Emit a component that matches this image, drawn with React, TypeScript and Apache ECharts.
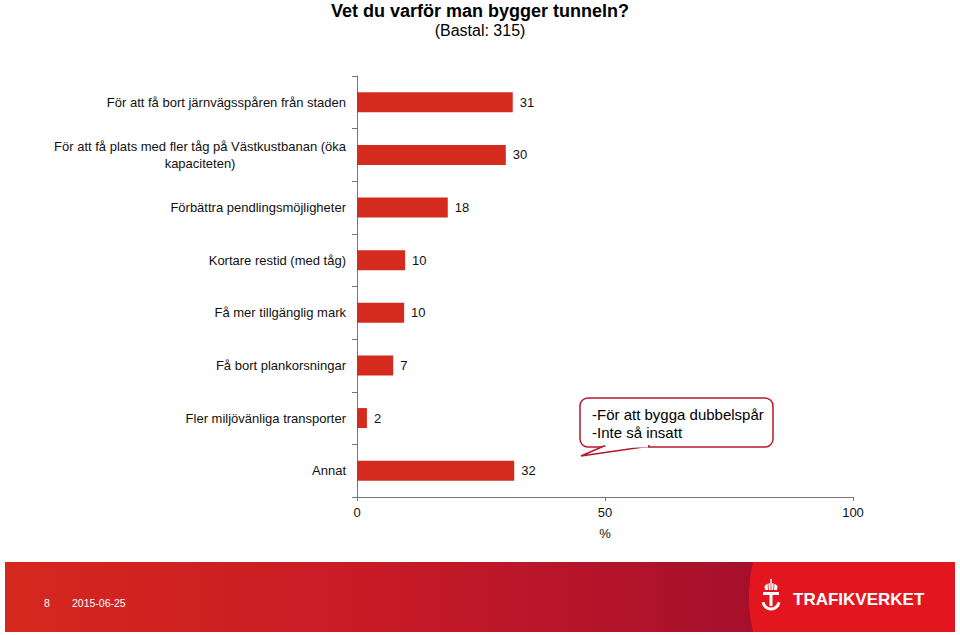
import React, { useEffect, useRef } from "react";
import * as echarts from "echarts";

const FONT = "'Liberation Sans', Arial, Helvetica, sans-serif";

const categories: string[] = [
  "För att få bort järnvägsspåren från staden",
  "För att få plats med fler tåg på Västkustbanan (öka\nkapaciteten)",
  "Förbättra pendlingsmöjligheter",
  "Kortare restid (med tåg)",
  "Få mer tillgänglig mark",
  "Få bort plankorsningar",
  "Fler miljövänliga transporter",
  "Annat",
];
const values: number[] = [31.4, 30.0, 18.3, 9.7, 9.5, 7.3, 2.0, 31.7];
const xTicks: number[] = [0, 50, 100];
const titleText = "Vet du varför man bygger tunneln?";
const subtitleText = "(Bastal: 315)";
const calloutLines: string[] = ["-För att bygga dubbelspår", "-Inte så insatt"];
const footerPage = "8";
const footerDate = "2015-06-25";
const logoText = "TRAFIKVERKET";

export default function App() {
  const ref = useRef<HTMLDivElement>(null);
  useEffect(() => {
    if (!ref.current) return;
    const chart = echarts.init(ref.current, undefined, { renderer: "svg" });
    const W = { fill: "#fff" };
    const option: any = {
      animation: false,
      backgroundColor: "#ffffff",
      textStyle: { fontFamily: FONT },
      grid: { left: 357, right: 107, top: 76, bottom: 138, containLabel: false },
      xAxis: {
        type: "value",
        min: xTicks[0],
        max: xTicks[xTicks.length - 1],
        interval: xTicks[1] - xTicks[0],
        splitLine: { show: false },
        axisLine: { show: true, lineStyle: { color: "#777", width: 1 } },
        axisTick: { show: true, length: 4, lineStyle: { color: "#777" } },
        axisLabel: { color: "#111", fontSize: 13, margin: 9, fontFamily: FONT },
        name: "%",
        nameLocation: "middle",
        nameGap: 30,
        nameTextStyle: { color: "#111", fontSize: 13, fontFamily: FONT },
      },
      yAxis: {
        type: "category",
        inverse: true,
        data: categories,
        axisLine: { show: true, lineStyle: { color: "#777", width: 1 } },
        axisTick: { show: true, length: 5, alignWithLabel: false, lineStyle: { color: "#777" } },
        axisLabel: {
          color: "#111",
          fontSize: 13,
          margin: 11,
          fontFamily: FONT,
          lineHeight: 17,
          formatter: (v: string) =>
            v.indexOf("\n") >= 0
              ? v
                  .split("\n")
                  .map((l) => "{c|" + l + "}")
                  .join("\n")
              : v,
          rich: {
            c: { align: "center", fontSize: 13, color: "#111", lineHeight: 17, fontFamily: FONT },
          },
        },
      },
      series: [
        {
          type: "bar",
          data: values,
          barWidth: 20,
          itemStyle: { color: "#d52b1e" },
          label: {
            show: true,
            position: "right",
            distance: 7,
            color: "#111",
            fontSize: 13,
            fontFamily: FONT,
            formatter: (p: any) => String(Math.round(p.value)),
          },
        },
      ],
      graphic: [
        {
          type: "text",
          x: 480,
          y: 11,
          style: {
            text: titleText,
            fill: "#000",
            font: "bold 18px " + FONT,
            textAlign: "center",
            textVerticalAlign: "middle",
          },
        },
        {
          type: "text",
          x: 480,
          y: 30,
          style: {
            text: subtitleText,
            fill: "#000",
            font: "16px " + FONT,
            textAlign: "center",
            textVerticalAlign: "middle",
          },
        },
        // callout
        {
          type: "rect",
          shape: { x: 580, y: 398, width: 193, height: 49, r: 8 },
          style: { fill: "#fff", stroke: "#b5182c", lineWidth: 1.5 },
          z: 10,
        },
        {
          type: "polygon",
          shape: { points: [[604, 446], [581, 456], [650, 446]] },
          style: { fill: "#fff", stroke: "#b5182c", lineWidth: 1.5 },
          z: 11,
        },
        {
          type: "line",
          shape: { x1: 605.5, y1: 446.2, x2: 648, y2: 446.2 },
          style: { stroke: "#fff", lineWidth: 2.5 },
          z: 12,
        },
        {
          type: "text",
          x: 592,
          y: 405,
          z: 13,
          style: {
            text: calloutLines.join("\n"),
            fill: "#000",
            font: "15px " + FONT,
            lineHeight: 18,
            textAlign: "left",
            textVerticalAlign: "top",
          },
        },
        // footer band
        {
          type: "rect",
          shape: { x: 5, y: 562, width: 760, height: 70 },
          style: {
            fill: new echarts.graphic.LinearGradient(0, 0, 1, 0, [
              { offset: 0, color: "#d5281d" },
              { offset: 0.5, color: "#c71a27" },
              { offset: 1, color: "#a50f2c" },
            ]),
          },
          z: 1,
        },
        {
          type: "polygon",
          shape: {
            points: [
              [753, 562],
              [750.5, 575],
              [749, 590],
              [749, 604],
              [750.5, 619],
              [753, 632],
              [955, 632],
              [955, 562],
            ],
          },
          style: { fill: "#e3161f" },
          z: 2,
        },
        {
          type: "text",
          x: 44,
          y: 603,
          z: 3,
          style: { text: footerPage, fill: "#fff", font: "10.5px " + FONT, textVerticalAlign: "middle" },
        },
        {
          type: "text",
          x: 72,
          y: 603,
          z: 3,
          style: { text: footerDate, fill: "#fff", font: "10.5px " + FONT, textVerticalAlign: "middle" },
        },
        // logo icon
        { type: "line", z: 5, shape: { x1: 771, y1: 579, x2: 771, y2: 583 }, style: { stroke: "#fff", lineWidth: 1.5 } },
        {
          type: "polygon",
          z: 5,
          shape: {
            points: [[765, 590], [764.5, 586], [767, 584], [771, 583], [775, 584], [777.5, 586], [777, 590]],
          },
          style: W,
        },
        { type: "line", z: 6, shape: { x1: 768, y1: 584, x2: 768.5, y2: 590 }, style: { stroke: "#e3161f", lineWidth: 0.8 } },
        { type: "line", z: 6, shape: { x1: 771, y1: 583.5, x2: 771, y2: 590 }, style: { stroke: "#e3161f", lineWidth: 0.8 } },
        { type: "line", z: 6, shape: { x1: 774, y1: 584, x2: 773.5, y2: 590 }, style: { stroke: "#e3161f", lineWidth: 0.8 } },
        { type: "rect", z: 5, shape: { x: 763, y: 592, width: 16, height: 3 }, style: W },
        { type: "rect", z: 5, shape: { x: 769.5, y: 595, width: 3, height: 11 }, style: W },
        {
          type: "arc",
          z: 5,
          shape: { cx: 771, cy: 601, r: 8, startAngle: 0.15, endAngle: Math.PI - 0.15 },
          style: { stroke: "#fff", lineWidth: 3, fill: "none" },
        },
        {
          type: "text",
          x: 793,
          y: 599,
          z: 5,
          style: {
            text: logoText,
            fill: "#fff",
            font: "bold 17px " + FONT,
            textVerticalAlign: "middle",
          },
        },
      ],
    };
    chart.setOption(option);
    return () => chart.dispose();
  }, []);
  return (
    <div
      ref={ref}
      style={{ position: "fixed", left: 0, top: 0, width: 960, height: 635, background: "#fff" }}
    />
  );
}
